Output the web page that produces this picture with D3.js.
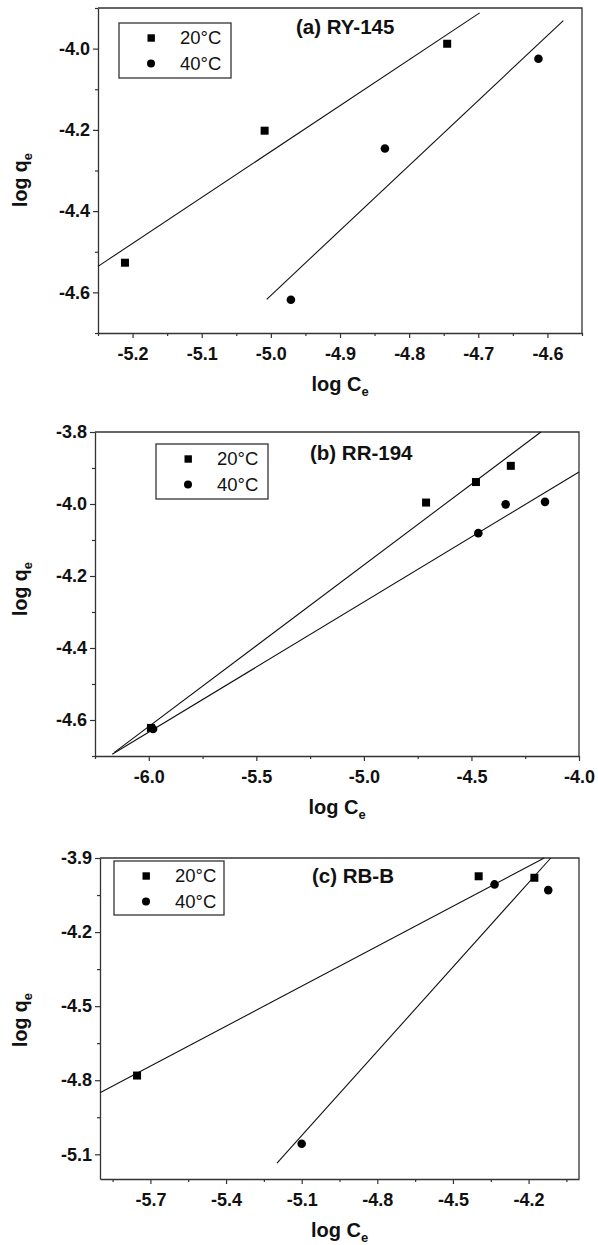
<!DOCTYPE html>
<html>
<head>
<meta charset="utf-8">
<script src="https://cdn.jsdelivr.net/npm/d3@7"></script>
<style>
  body { margin: 0; background: #fff; }
  svg { display: block; }
</style>
</head>
<body>
<div id="chart"></div>
<script>
// series labels
const seriesNames = ["20°C", "40°C"];

// (a) RY-145
const aTitle = "(a) RY-145";
const aX20 = [-5.211, -5.009, -4.745];
const aY20 = [-4.527, -4.202, -3.988];
const aX40 = [-4.971, -4.835, -4.613];
const aY40 = [-4.618, -4.246, -4.025];
const aFit20 = [[-5.25, -4.536], [-4.698, -3.912]];
const aFit40 = [[-5.006, -4.617], [-4.577, -3.931]];
const aXDomain = [-5.25, -4.55];
const aYDomain = [-4.7, -3.9];
const aXTicks = [-5.2, -5.1, -5.0, -4.9, -4.8, -4.7, -4.6];
const aXMinor = [-5.25, -5.15, -5.05, -4.95, -4.85, -4.75, -4.65, -4.55];
const aYTicks = [-4.0, -4.2, -4.4, -4.6];
const aYMinor = [-3.9, -4.1, -4.3, -4.5, -4.7];

// (b) RR-194
const bTitle = "(b) RR-194";
const bX20 = [-5.99, -4.711, -4.479, -4.317];
const bY20 = [-4.622, -3.996, -3.939, -3.894];
const bX40 = [-5.98, -4.468, -4.341, -4.158];
const bY40 = [-4.625, -4.081, -4.001, -3.994];
const bFit20 = [[-6.16, -4.69], [-4.177, -3.8]];
const bFit40 = [[-6.17, -4.695], [-4.0, -3.911]];
const bXDomain = [-6.25, -4.0];
const bYDomain = [-4.7, -3.8];
const bXTicks = [-6.0, -5.5, -5.0, -4.5, -4.0];
const bXMinor = [-6.25, -5.75, -5.25, -4.75, -4.25];
const bYTicks = [-3.8, -4.0, -4.2, -4.4, -4.6];
const bYMinor = [-3.9, -4.1, -4.3, -4.5, -4.7];

// (c) RB-B
const cTitle = "(c) RB-B";
const cX20 = [-5.753, -4.398, -4.177];
const cY20 = [-4.781, -3.974, -3.98];
const cX40 = [-5.1, -4.335, -4.122];
const cY40 = [-5.057, -4.007, -4.03];
const cFit20 = [[-5.9, -4.851], [-4.138, -3.9]];
const cFit40 = [[-5.198, -5.136], [-4.112, -3.9]];
const cXDomain = [-5.9, -4.0];
const cYDomain = [-5.2, -3.9];
const cXTicks = [-5.7, -5.4, -5.1, -4.8, -4.5, -4.2];
const cXMinor = [-5.85, -5.55, -5.25, -4.95, -4.65, -4.35, -4.05];
const cYTicks = [-3.9, -4.2, -4.5, -4.8, -5.1];
const cYMinor = [-4.05, -4.35, -4.65, -4.95];

const W = 598, H = 1245;
const FONT = "'Liberation Sans', Arial, sans-serif";

const svg = d3.select("#chart").append("svg")
    .attr("width", W)
    .attr("height", H);

svg.append("rect").attr("width", W).attr("height", H).attr("fill", "#fff");

const panels = [
  { title: aTitle, x20: aX20, y20: aY20, x40: aX40, y40: aY40, fit20: aFit20, fit40: aFit40,
    xDomain: aXDomain, yDomain: aYDomain, xTicks: aXTicks, xMinor: aXMinor, yTicks: aYTicks, yMinor: aYMinor,
    box: { left: 98, right: 582, top: 8, bottom: 333 }, titlePos: [296, 34],
    legend: { x: 119, y: 23, w: 112, h: 55 }, yTitle: 180 },
  { title: bTitle, x20: bX20, y20: bY20, x40: bX40, y40: bY40, fit20: bFit20, fit40: bFit40,
    xDomain: bXDomain, yDomain: bYDomain, xTicks: bXTicks, xMinor: bXMinor, yTicks: bYTicks, yMinor: bYMinor,
    box: { left: 95, right: 579, top: 432, bottom: 756 }, titlePos: [310, 460],
    legend: { x: 156, y: 444, w: 112, h: 55 }, yTitle: 589 },
  { title: cTitle, x20: cX20, y20: cY20, x40: cX40, y40: cY40, fit20: cFit20, fit40: cFit40,
    xDomain: cXDomain, yDomain: cYDomain, xTicks: cXTicks, xMinor: cXMinor, yTicks: cYTicks, yMinor: cYMinor,
    box: { left: 100, right: 579, top: 858, bottom: 1179 }, titlePos: [312, 883],
    legend: { x: 114, y: 861, w: 110, h: 54 }, yTitle: 1020 }
];

panels.forEach(drawPanel);

function drawPanel(p) {
    const b = p.box;
    const x = d3.scaleLinear().domain(p.xDomain).range([b.left, b.right]);
    const y = d3.scaleLinear().domain(p.yDomain).range([b.bottom, b.top]);
    const g = svg.append("g");

    // top and right frame
    g.append("path")
        .attr("d", `M${b.left},${b.top}H${b.right}V${b.bottom}`)
        .attr("fill", "none")
        .attr("stroke", "#333")
        .attr("stroke-width", 1.3);

    // minor ticks
    g.append("g")
        .attr("transform", `translate(0,${b.bottom})`)
        .call(d3.axisBottom(x).tickValues(p.xMinor).tickSize(3).tickFormat(""))
        .call(a => a.select(".domain").remove())
        .call(a => a.selectAll("line").attr("stroke", "#333").attr("stroke-width", 1.2));
    g.append("g")
        .attr("transform", `translate(${b.left},0)`)
        .call(d3.axisLeft(y).tickValues(p.yMinor).tickSize(3).tickFormat(""))
        .call(a => a.select(".domain").remove())
        .call(a => a.selectAll("line").attr("stroke", "#333").attr("stroke-width", 1.2));

    // major axes
    const fmt = d => d3.format(".1f")(d).replace("−", "-");
    g.append("g")
        .attr("transform", `translate(0,${b.bottom})`)
        .call(d3.axisBottom(x).tickValues(p.xTicks).tickSize(5).tickSizeOuter(0).tickPadding(9).tickFormat(fmt))
        .call(a => a.select(".domain").attr("stroke", "#333").attr("stroke-width", 1.3))
        .call(a => a.selectAll("line").attr("stroke", "#333").attr("stroke-width", 1.2))
        .call(styleTicks);
    g.append("g")
        .attr("transform", `translate(${b.left},0)`)
        .call(d3.axisLeft(y).tickValues(p.yTicks).tickSize(5).tickSizeOuter(0).tickPadding(3).tickFormat(fmt))
        .call(a => a.select(".domain").attr("stroke", "#333").attr("stroke-width", 1.3))
        .call(a => a.selectAll("line").attr("stroke", "#333").attr("stroke-width", 1.2))
        .call(styleTicks);

    // fitted lines
    const line = d3.line().x(d => x(d[0])).y(d => y(d[1]));
    [p.fit20, p.fit40].forEach(f => {
        g.append("path")
            .attr("d", line(f))
            .attr("fill", "none")
            .attr("stroke", "#111")
            .attr("stroke-width", 1.1);
    });

    // 20°C squares
    g.selectAll(".sq")
        .data(d3.zip(p.x20, p.y20))
        .enter().append("rect")
        .attr("x", d => x(d[0]) - 4)
        .attr("y", d => y(d[1]) - 4)
        .attr("width", 8)
        .attr("height", 8)
        .attr("fill", "#000");

    // 40°C circles
    g.selectAll(".ci")
        .data(d3.zip(p.x40, p.y40))
        .enter().append("circle")
        .attr("cx", d => x(d[0]))
        .attr("cy", d => y(d[1]))
        .attr("r", 4.3)
        .attr("fill", "#000");

    // panel title
    g.append("text")
        .attr("x", p.titlePos[0])
        .attr("y", p.titlePos[1])
        .style("font-family", FONT)
        .style("font-weight", "bold")
        .style("font-size", "20.5px")
        .attr("fill", "#111")
        .text(p.title);

    // legend
    const L = p.legend;
    const lg = g.append("g").attr("transform", `translate(${L.x},${L.y})`);
    lg.append("rect")
        .attr("width", L.w).attr("height", L.h)
        .attr("fill", "#fff").attr("stroke", "#333").attr("stroke-width", 1.3);
    seriesNames.forEach((s, i) => {
        const cy = 15 + i * 25.5;
        if (i === 0) {
            lg.append("rect").attr("x", 28.5).attr("y", cy - 3.7).attr("width", 7.4).attr("height", 7.4).attr("fill", "#000");
        } else {
            lg.append("circle").attr("cx", 32).attr("cy", cy).attr("r", 4).attr("fill", "#000");
        }
        lg.append("text")
            .attr("x", 61)
            .attr("y", cy)
            .attr("dy", "0.35em")
            .style("font-family", FONT)
            .style("font-size", "18.5px")
            .attr("fill", "#111")
            .text(s);
    });

    // axis titles
    const xt = g.append("text")
        .attr("x", (b.left + b.right) / 2)
        .attr("y", b.bottom + 58)
        .attr("text-anchor", "middle")
        .style("font-family", FONT)
        .style("font-weight", "bold")
        .style("font-size", "20px")
        .attr("fill", "#111");
    xt.append("tspan").text("log C");
    xt.append("tspan").style("font-size", "13px").attr("dy", 5).text("e");

    const yt = g.append("text")
        .attr("transform", `translate(27,${p.yTitle}) rotate(-90)`)
        .attr("text-anchor", "middle")
        .style("font-family", FONT)
        .style("font-weight", "bold")
        .style("font-size", "19.5px")
        .attr("fill", "#111");
    yt.append("tspan").text("log q");
    yt.append("tspan").style("font-size", "13px").attr("dy", 5).text("e");
}

function styleTicks(a) {
    a.selectAll(".tick text")
        .style("font-family", FONT)
        .style("font-weight", "bold")
        .style("font-size", "18px")
        .attr("fill", "#111");
}
</script>
</body>
</html>
